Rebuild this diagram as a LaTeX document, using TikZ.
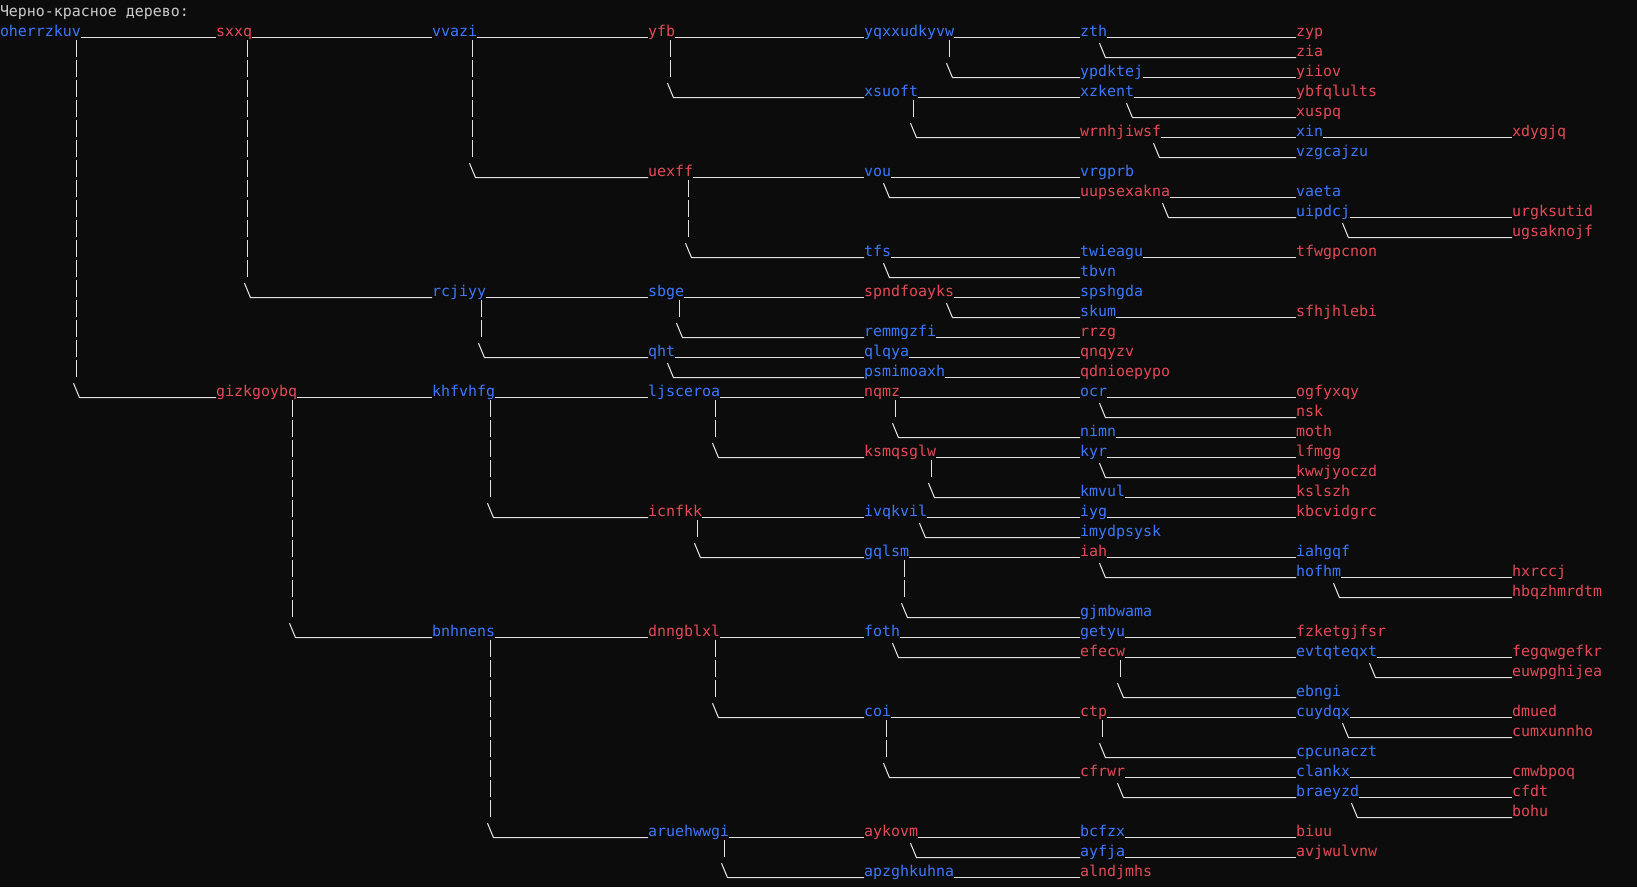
\documentclass[tikz,border=0pt]{standalone}
\usepackage{fontspec}
\setmonofont{DejaVu Sans Mono}
\usetikzlibrary{calc}

\definecolor{termbg}{HTML}{0C0C0C}
\definecolor{termfg}{HTML}{CCCCCC}
\definecolor{termline}{HTML}{E2E2E2}
\definecolor{termblue}{HTML}{3B78FF}
\definecolor{termred}{HTML}{E74856}

\begin{document}
\begin{tikzpicture}[
    % styles
    basic/.style={anchor=base west, inner sep=0pt, outer sep=0pt,
        font=\ttfamily\fontsize{14.95pt}{20pt}\selectfont},
    blk/.style={basic, text=termblue},
    rd/.style={basic, text=termred},
    under/.style={draw=termline, line width=1.05pt},
    bar/.style={draw=termline, line width=1.05pt, dash pattern=on 16.7pt off 3.3pt}
]

% --- parameters ---
\def\colw{216pt}  % one tree level = 24 characters
\def\rowh{20pt}   % line pitch
\def\top{16.7pt}  % baseline of the first line

% background
\fill[termbg] (0,0) rectangle (1637pt,-887pt);

% title
\node[basic, text=termfg] (title) at (0,-\top) {Черно-красное дерево:};

% --- nodes: name/level/line/colour ---
\foreach \n/\d/\r/\k in {
    oherrzkuv/0/1/blk, sxxq/1/1/rd, vvazi/2/1/blk, yfb/3/1/rd,
    yqxxudkyvw/4/1/blk, zth/5/1/blk, zyp/6/1/rd, zia/6/2/rd,
    ypdktej/5/3/blk, yiiov/6/3/rd, xsuoft/4/4/blk, xzkent/5/4/blk,
    ybfqlults/6/4/rd, xuspq/6/5/rd, wrnhjiwsf/5/6/rd, xin/6/6/blk,
    xdygjq/7/6/rd, vzgcajzu/6/7/blk, uexff/3/8/rd, vou/4/8/blk,
    vrgprb/5/8/blk, uupsexakna/5/9/rd, vaeta/6/9/blk, uipdcj/6/10/blk,
    urgksutid/7/10/rd, ugsaknojf/7/11/rd, tfs/4/12/blk, twieagu/5/12/blk,
    tfwgpcnon/6/12/rd, tbvn/5/13/blk, rcjiyy/2/14/blk, sbge/3/14/blk,
    spndfoayks/4/14/rd, spshgda/5/14/blk, skum/5/15/blk, sfhjhlebi/6/15/rd,
    remmgzfi/4/16/blk, rrzg/5/16/rd, qht/3/17/blk, qlqya/4/17/blk,
    qnqyzv/5/17/rd, psmimoaxh/4/18/blk, qdnioepypo/5/18/rd,
    gizkgoybq/1/19/rd, khfvhfg/2/19/blk, ljsceroa/3/19/blk, nqmz/4/19/rd,
    ocr/5/19/blk, ogfyxqy/6/19/rd, nsk/6/20/rd, nimn/5/21/blk, moth/6/21/rd,
    ksmqsglw/4/22/rd, kyr/5/22/blk, lfmgg/6/22/rd, kwwjyoczd/6/23/rd,
    kmvul/5/24/blk, kslszh/6/24/rd, icnfkk/3/25/rd, ivqkvil/4/25/blk,
    iyg/5/25/blk, kbcvidgrc/6/25/rd, imydpsysk/5/26/blk, gqlsm/4/27/blk,
    iah/5/27/rd, iahgqf/6/27/blk, hofhm/6/28/blk, hxrccj/7/28/rd,
    hbqzhmrdtm/7/29/rd, gjmbwama/5/30/blk, bnhnens/2/31/blk,
    dnngblxl/3/31/rd, foth/4/31/blk, getyu/5/31/blk, fzketgjfsr/6/31/rd,
    efecw/5/32/rd, evtqteqxt/6/32/blk, fegqwgefkr/7/32/rd,
    euwpghijea/7/33/rd, ebngi/6/34/blk, coi/4/35/blk, ctp/5/35/rd,
    cuydqx/6/35/blk, dmued/7/35/rd, cumxunnho/7/36/rd, cpcunaczt/6/37/blk,
    cfrwr/5/38/rd, clankx/6/38/blk, cmwbpoq/7/38/rd, braeyzd/6/39/blk,
    cfdt/7/39/rd, bohu/7/40/rd, aruehwwgi/3/41/blk, aykovm/4/41/rd,
    bcfzx/5/41/blk, biuu/6/41/rd, ayfja/5/42/blk, avjwulvnw/6/42/rd,
    apzghkuhna/4/43/blk, alndjmhs/5/43/rd}
    \node[\k] (\n) at ({\d*\colw}, {-\top-\r*\rowh}) {\n};

% --- links ---

% 1. child on the same line
\foreach \p/\c in {
    oherrzkuv/sxxq, sxxq/vvazi, vvazi/yfb, yfb/yqxxudkyvw, yqxxudkyvw/zth,
    zth/zyp, ypdktej/yiiov, xsuoft/xzkent, xzkent/ybfqlults, wrnhjiwsf/xin,
    xin/xdygjq, uexff/vou, vou/vrgprb, uupsexakna/vaeta, uipdcj/urgksutid,
    tfs/twieagu, twieagu/tfwgpcnon, rcjiyy/sbge, sbge/spndfoayks,
    spndfoayks/spshgda, skum/sfhjhlebi, remmgzfi/rrzg, qht/qlqya,
    qlqya/qnqyzv, psmimoaxh/qdnioepypo, gizkgoybq/khfvhfg, khfvhfg/ljsceroa,
    ljsceroa/nqmz, nqmz/ocr, ocr/ogfyxqy, nimn/moth, ksmqsglw/kyr,
    kyr/lfmgg, kmvul/kslszh, icnfkk/ivqkvil, ivqkvil/iyg, iyg/kbcvidgrc,
    gqlsm/iah, iah/iahgqf, hofhm/hxrccj, bnhnens/dnngblxl, dnngblxl/foth,
    foth/getyu, getyu/fzketgjfsr, efecw/evtqteqxt, evtqteqxt/fegqwgefkr,
    coi/ctp, ctp/cuydqx, cuydqx/dmued, cfrwr/clankx, clankx/cmwbpoq,
    braeyzd/cfdt, aruehwwgi/aykovm, aykovm/bcfzx, bcfzx/biuu,
    ayfja/avjwulvnw, apzghkuhna/alndjmhs}
    \draw[under] ([yshift=-1pt]\p.base east) -- ([yshift=-1pt]\c.base west);

% 2. child some lines below: vertical bar first
\foreach \p/\c in {
    oherrzkuv/gizkgoybq, sxxq/rcjiyy, vvazi/uexff, yfb/xsuoft,
    yqxxudkyvw/ypdktej, xsuoft/wrnhjiwsf, uexff/tfs, rcjiyy/qht,
    sbge/remmgzfi, nqmz/nimn, ljsceroa/ksmqsglw, ksmqsglw/kmvul,
    khfvhfg/icnfkk, icnfkk/gqlsm, gqlsm/gjmbwama, gizkgoybq/bnhnens,
    efecw/ebngi, dnngblxl/coi, ctp/cpcunaczt, coi/cfrwr,
    bnhnens/aruehwwgi, aruehwwgi/apzghkuhna}
    \draw[bar] ($(\p.base east)+(-4.5pt,-3.3pt)$)
        -- ($(\p.base east |- \c.base)+(-4.5pt,\rowh)$);

% 3. every child below: backslash and underline
\foreach \p/\c in {
    oherrzkuv/gizkgoybq, sxxq/rcjiyy, vvazi/uexff, yfb/xsuoft,
    yqxxudkyvw/ypdktej, xsuoft/wrnhjiwsf, uexff/tfs, rcjiyy/qht,
    sbge/remmgzfi, nqmz/nimn, ljsceroa/ksmqsglw, ksmqsglw/kmvul,
    khfvhfg/icnfkk, icnfkk/gqlsm, gqlsm/gjmbwama, gizkgoybq/bnhnens,
    efecw/ebngi, dnngblxl/coi, ctp/cpcunaczt, coi/cfrwr,
    bnhnens/aruehwwgi, aruehwwgi/apzghkuhna,
    zth/zia, xzkent/xuspq, wrnhjiwsf/vzgcajzu, vou/uupsexakna,
    uupsexakna/uipdcj, uipdcj/ugsaknojf, tfs/tbvn, spndfoayks/skum,
    qht/psmimoaxh, ocr/nsk, kyr/kwwjyoczd, ivqkvil/imydpsysk, iah/hofhm,
    hofhm/hbqzhmrdtm, foth/efecw, evtqteqxt/euwpghijea, cuydqx/cumxunnho,
    cfrwr/braeyzd, braeyzd/bohu, aykovm/ayfja}
    \draw[under] ($(\p.base east |- \c.base)+(-7.5pt,13.5pt)$)
        -- ($(\p.base east |- \c.base)+(-1.5pt,-1pt)$)
        -- ([yshift=-1pt]\c.base west);

\end{tikzpicture}
\end{document}
